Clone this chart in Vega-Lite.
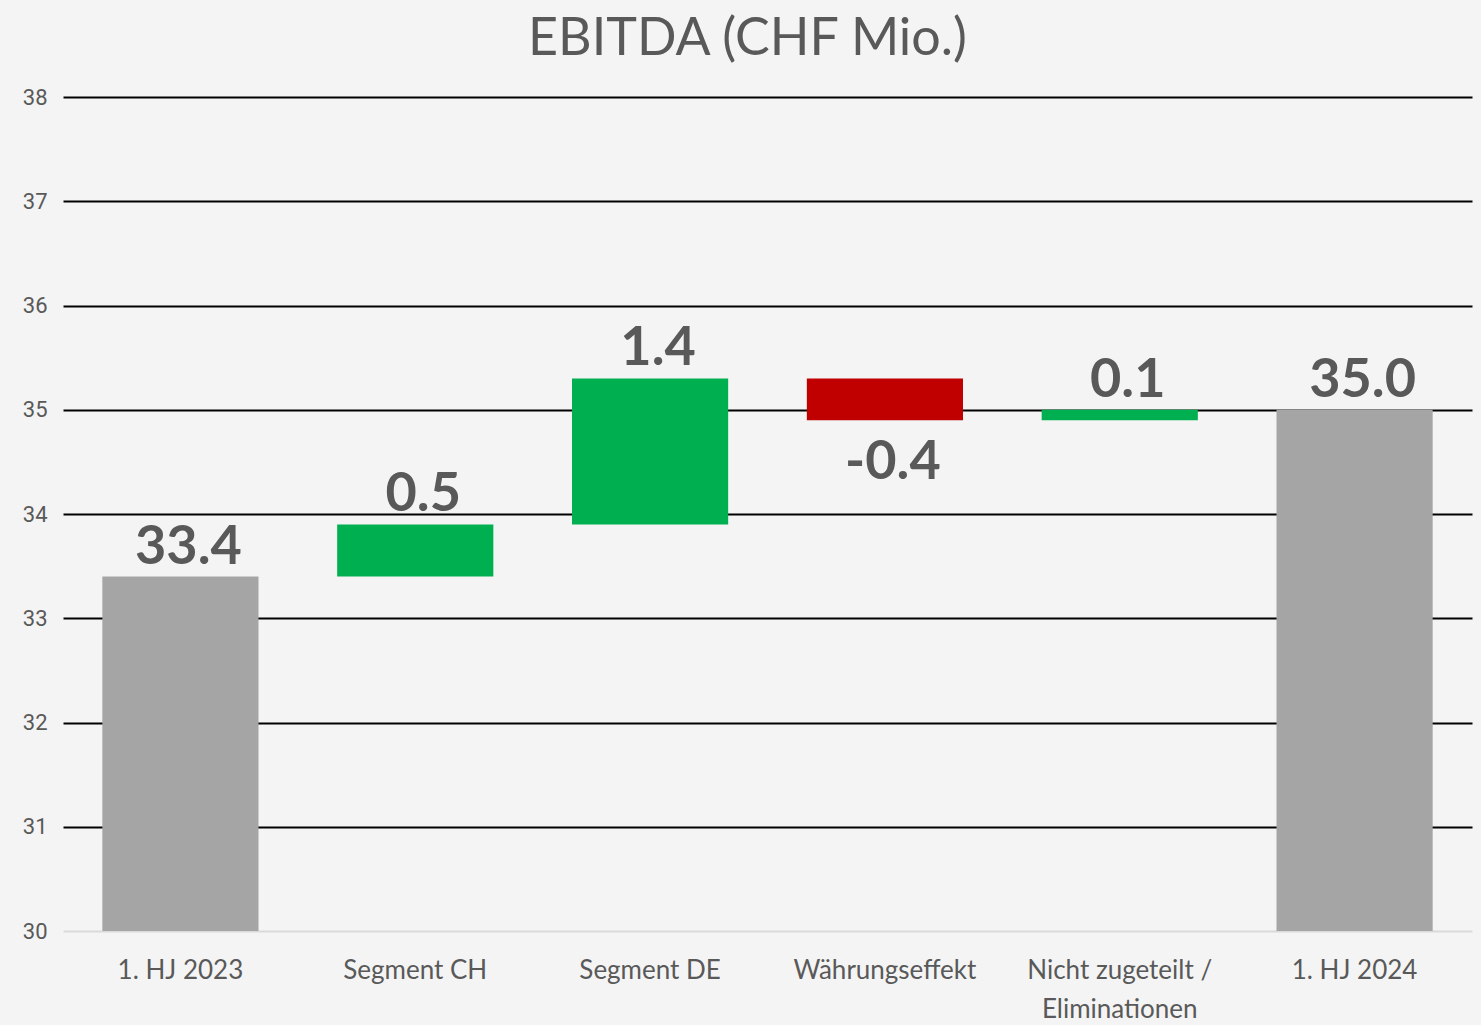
{
  "$schema": "https://vega.github.io/schema/vega-lite/v6.json",
  "width": 1409,
  "height": 834,
  "autosize": {"type": "none"},
  "padding": {"left": 63, "top": 97, "right": 9, "bottom": 94},
  "background": "#f4f4f4",
  "title": {"text": "EBITDA (CHF Mio.)", "fontSize": 52, "font": "Lato", "fontWeight": "normal", "color": "#595959", "anchor": "middle", "offset": 20, "dx": -20},
  "config": {"view": {"stroke": null}},
  "data": {"values": [
    {"cat": "1. HJ 2023", "start": 30, "end": 33.4, "kind": "total", "label": "33.4", "ly": 33.4, "dir": "up"},
    {"cat": "Segment CH", "start": 33.4, "end": 33.9, "kind": "pos", "label": "0.5", "ly": 33.9, "dir": "up"},
    {"cat": "Segment DE", "start": 33.9, "end": 35.3, "kind": "pos", "label": "1.4", "ly": 35.3, "dir": "up"},
    {"cat": "Währungseffekt", "start": 35.3, "end": 34.9, "kind": "neg", "label": "-0.4", "ly": 34.9, "dir": "down"},
    {"cat": "Nicht zugeteilt / Eliminationen", "start": 34.9, "end": 35.0, "kind": "pos", "label": "0.1", "ly": 35.0, "dir": "up"},
    {"cat": "1. HJ 2024", "start": 30, "end": 35.0, "kind": "total", "label": "35.0", "ly": 35.0, "dir": "up"}
  ]},
  "encoding": {
    "x": {
      "field": "cat", "type": "nominal", "sort": null,
      "scale": {"paddingInner": 0.335, "paddingOuter": 0.1675},
      "axis": {
        "title": null, "domain": false, "ticks": false, "labelAngle": 0,
        "labelFont": "Lato", "labelFontSize": 26, "labelColor": "#595959",
        "labelPadding": 26, "labelLimit": 400, "labelLineHeight": 39,
        "labelExpr": "datum.label == 'Nicht zugeteilt / Eliminationen' ? ['Nicht zugeteilt /', 'Eliminationen'] : datum.label"
      }
    }
  },
  "layer": [
    {
      "mark": {"type": "bar"},
      "encoding": {
        "y": {
          "field": "start", "type": "quantitative",
          "scale": {"domain": [30, 38], "nice": false, "zero": false},
          "axis": {
            "title": null, "domain": false, "ticks": false, "format": "d",
            "values": [30, 31, 32, 33, 34, 35, 36, 37, 38],
            "labelFont": "Roboto", "labelFontSize": 22, "labelColor": "#595959", "labelPadding": 16,
            "grid": true, "gridWidth": 2,
            "gridColor": {"condition": {"test": "datum.value === 30", "value": "#d9d9d9"}, "value": "#000000"}
          }
        },
        "y2": {"field": "end"},
        "color": {
          "field": "kind", "type": "nominal",
          "scale": {"domain": ["total", "pos", "neg"], "range": ["#a5a5a5", "#00b050", "#c00000"]},
          "legend": null
        }
      }
    },
    {
      "transform": [{"filter": "datum.dir === 'up'"}],
      "mark": {"type": "text", "baseline": "alphabetic", "dy": -13, "dx": 8, "fontSize": 54, "fontWeight": "bold", "font": "Lato", "color": "#595959"},
      "encoding": {
        "y": {"field": "ly", "type": "quantitative"},
        "text": {"field": "label"}
      }
    },
    {
      "transform": [{"filter": "datum.dir === 'down'"}],
      "mark": {"type": "text", "baseline": "top", "dy": 16, "dx": 8, "fontSize": 54, "fontWeight": "bold", "font": "Lato", "color": "#595959"},
      "encoding": {
        "y": {"field": "ly", "type": "quantitative"},
        "text": {"field": "label"}
      }
    }
  ]
}
